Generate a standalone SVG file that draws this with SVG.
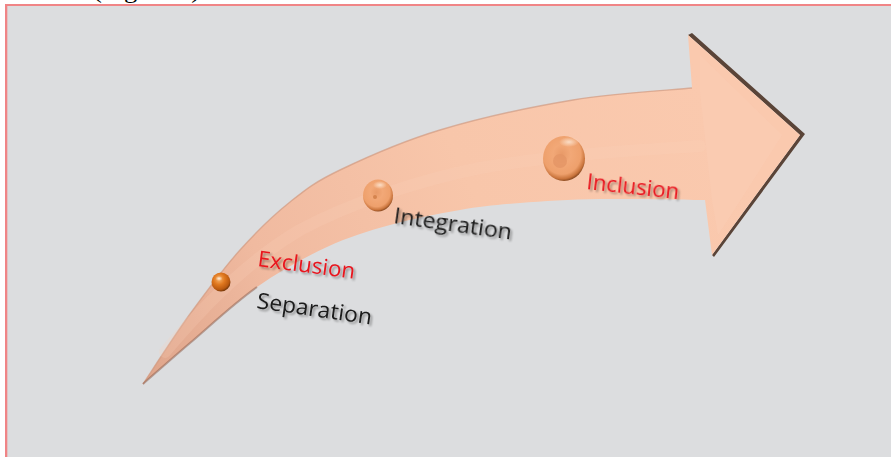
<svg xmlns="http://www.w3.org/2000/svg" width="891" height="457" viewBox="0 0 891 457">
  <defs>
    <style>
      .lbl { font-family: "Open Sans", "Noto Sans", "Liberation Sans", sans-serif; font-size: 22px; }
      .red { fill: #e8141e; }
      .blk { fill: #1a1a1a; }
      .cap { font-family: "Liberation Serif", "Times New Roman", serif; font-size: 24px; fill: #000; }
    </style>
    <linearGradient id="shaftGrad" x1="143" y1="384" x2="720" y2="120" gradientUnits="userSpaceOnUse">
      <stop offset="0" stop-color="#dea48a"/>
      <stop offset="0.25" stop-color="#f0baa0"/>
      <stop offset="0.6" stop-color="#f8c6aa"/>
      <stop offset="1" stop-color="#fac9ae"/>
    </linearGradient>
    <radialGradient id="ballSmall" cx="0.4" cy="0.35" r="0.65">
      <stop offset="0" stop-color="#f7b26a"/>
      <stop offset="0.45" stop-color="#e0781f"/>
      <stop offset="0.85" stop-color="#b9580f"/>
      <stop offset="1" stop-color="#7a3a0a"/>
    </radialGradient>
    <radialGradient id="ballBig" cx="0.45" cy="0.4" r="0.6">
      <stop offset="0" stop-color="#e89a68"/>
      <stop offset="0.35" stop-color="#f2a877"/>
      <stop offset="0.75" stop-color="#eea06c"/>
      <stop offset="0.92" stop-color="#c9743c"/>
      <stop offset="1" stop-color="#8f4d22"/>
    </radialGradient>
    <radialGradient id="ballHi" cx="0.5" cy="0.5" r="0.5">
      <stop offset="0" stop-color="#fff3e6" stop-opacity="0.9"/>
      <stop offset="1" stop-color="#fff3e6" stop-opacity="0"/>
    </radialGradient>
    <filter id="txtShadow" x="-10%" y="-30%" width="120%" height="160%">
      <feGaussianBlur in="SourceAlpha" stdDeviation="1.2"/>
      <feOffset dx="1.5" dy="1.5" result="b"/>
      <feComponentTransfer><feFuncA type="linear" slope="0.35"/></feComponentTransfer>
      <feMerge><feMergeNode/><feMergeNode in="SourceGraphic"/></feMerge>
    </filter>
  </defs>

  <!-- page frame -->
  <rect x="0" y="0" width="891" height="457" fill="#ffffff"/>
  <text class="cap" x="93" y="-2.5" textLength="107" lengthAdjust="spacingAndGlyphs">(Figure 1)</text>
  <rect x="7" y="6" width="884" height="451" fill="#dcdddf"/>
  <rect x="5" y="4" width="886" height="2" fill="#f08486"/>
  <rect x="5" y="4" width="2.3" height="453" fill="#f08486"/>

  <!-- arrow -->
  <g id="arrow">
    <polygon points="688,35 692,33 805,134 802,138 714,257 712,255 800,135" fill="#5a4438"/>
    <path d="M143,384 C150.8,372.3 173.8,336.3 190,314 C206.2,291.7 223.3,268.7 240,250 C256.7,231.3 273.3,215.3 290,202 C306.7,188.7 315,182 340,170 C365,158 401.2,141.7 440,130 C478.8,118.3 531,107 573,100 C615,93 672.2,90 692,88 L688,35 L800,135 L712,255 L705,200 C687.5,199.8 630.8,198.5 600,199 C569.2,199.5 543.3,201.2 520,203 C496.7,204.8 481.7,206.3 460,210 C438.3,213.7 412.2,218.8 390,225 C367.8,231.2 349.2,236.7 327,247 C304.8,257.3 279.8,271 257,287 C234.2,303 209,326.8 190,343 C171,359.2 150.8,377.2 143,384 Z" fill="url(#shaftGrad)"/>
    <path d="M143,384 C150.8,372.3 173.8,336.3 190,314 C206.2,291.7 223.3,268.7 240,250 C256.7,231.3 273.3,215.3 290,202 C306.7,188.7 315,182 340,170 C365,158 401.2,141.7 440,130 C478.8,118.3 531,107 573,100 C615,93 672.2,90 692,88" fill="none" stroke="#d29a80" stroke-width="1.4" stroke-opacity="0.7"/>
    <path d="M257,287 C234.2,303 209,326.8 190,343 C171,359.2 150.8,377.2 143,384" fill="none" stroke="#8a5a48" stroke-width="2" stroke-opacity="0.5"/>
    <path d="M165,352 C200,310 245,262 300,230 C350,203 420,180 480,168 C560,154 640,150 700,146" fill="none" stroke="#fcd3bb" stroke-width="12" stroke-opacity="0.22" stroke-linecap="round"/>
    <polygon points="700,55 782,135 718,235 712,200 700,92" fill="#fbcfb6" opacity="0.45"/>
  </g>

  <!-- balls -->
  <g id="ball-separation">
    <circle cx="221" cy="282" r="9.5" fill="url(#ballSmall)"/>
    <ellipse cx="219" cy="278.5" rx="3.5" ry="2.5" fill="url(#ballHi)"/>
  </g>
  <g id="ball-integration">
    <ellipse cx="378" cy="195.5" rx="15" ry="16" fill="url(#ballBig)"/>
    <ellipse cx="380" cy="185" rx="7" ry="4" fill="url(#ballHi)" opacity="0.8"/>
    <circle cx="375" cy="197" r="2" fill="#d5844e"/>
  </g>
  <g id="ball-inclusion">
    <ellipse cx="564" cy="158.5" rx="21" ry="22.5" fill="url(#ballBig)"/>
    <ellipse cx="569" cy="142" rx="10" ry="5" fill="url(#ballHi)" opacity="0.8"/>
    <circle cx="560" cy="161" r="7" fill="#e39565" opacity="0.8"/>
  </g>

  <!-- labels -->
  <g id="labels" filter="url(#txtShadow)">
    <text id="lbl-exclusion" class="lbl red" x="257" y="266" textLength="98" lengthAdjust="spacingAndGlyphs" transform="rotate(7.5 257 266)">Exclusion</text>
    <text id="lbl-separation" class="lbl blk" x="256" y="308" textLength="116" lengthAdjust="spacingAndGlyphs" transform="rotate(8.2 256 308)">Separation</text>
    <text id="lbl-integration" class="lbl blk" x="393" y="223" textLength="119" lengthAdjust="spacingAndGlyphs" transform="rotate(8 393 223)">Integration</text>
    <text id="lbl-inclusion" class="lbl red" x="586" y="189" textLength="93" lengthAdjust="spacingAndGlyphs" transform="rotate(6.3 586 189)">Inclusion</text>
  </g>
</svg>
